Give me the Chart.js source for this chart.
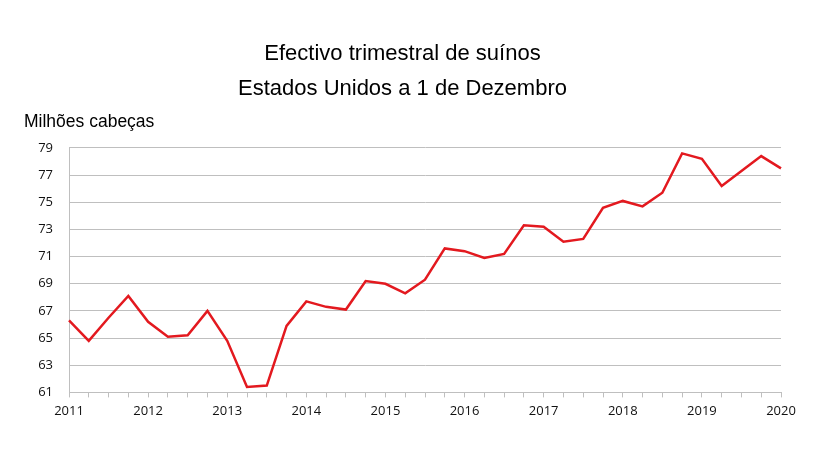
<!DOCTYPE html>
<html>
<head>
<meta charset="utf-8">
<script src="https://cdn.jsdelivr.net/npm/chart.js@4/dist/chart.umd.min.js"></script>
<style>
  html, body { margin: 0; padding: 0; background: #fff; }
  #wrap { width: 820px; height: 461px; }
</style>
</head>
<body>
<div id="wrap"><canvas id="hogChart"></canvas></div>
<script>
const titleLines = ["Efectivo trimestral de suínos", "Estados Unidos a 1 de Dezembro"];
const unitLabel = "Milhões cabeças";

const periods = [
  "2011 T1", "2011 T2", "2011 T3", "2011 T4",
  "2012 T1", "2012 T2", "2012 T3", "2012 T4",
  "2013 T1", "2013 T2", "2013 T3", "2013 T4",
  "2014 T1", "2014 T2", "2014 T3", "2014 T4",
  "2015 T1", "2015 T2", "2015 T3", "2015 T4",
  "2016 T1", "2016 T2", "2016 T3", "2016 T4",
  "2017 T1", "2017 T2", "2017 T3", "2017 T4",
  "2018 T1", "2018 T2", "2018 T3", "2018 T4",
  "2019 T1", "2019 T2", "2019 T3", "2019 T4",
  "2020 T1"
];

const hogs = [
  66.3, 64.8, 66.5, 68.1,
  66.2, 65.1, 65.2, 67.0,
  64.8, 61.4, 61.5, 65.9,
  67.7, 67.3, 67.1, 69.2,
  69.0, 68.3, 69.3, 71.6,
  71.4, 70.9, 71.2, 73.3,
  73.2, 72.1, 72.3, 74.6,
  75.1, 74.7, 75.7, 78.6,
  78.2, 76.2, 77.3, 78.4,
  77.5
];

const yMin = 61;
const yMax = 79;
const yStep = 2;

const gridColor = "#bfbfbf";
const tickFont = { family: "'Open Sans', sans-serif", size: 13 };

new Chart(document.querySelector("#hogChart").getContext("2d"), {
  type: "line",
  data: {
    labels: periods,
    datasets: [{
      label: "Efectivo",
      data: hogs,
      borderColor: "#e3191f",
      borderWidth: 2.5,
      pointRadius: 0,
      tension: 0,
      fill: false,
    }],
  },
  options: {
    responsive: true,
    maintainAspectRatio: false,
    animation: false,
    layout: {
      padding: { left: 24, right: 39, top: 0, bottom: 36 },
    },
    plugins: {
      legend: { display: false },
      tooltip: { enabled: false },
      title: {
        display: true,
        text: titleLines,
        color: "#000",
        font: { family: "'Liberation Sans', Arial, sans-serif", size: 22, weight: "normal", lineHeight: 1.59 },
        padding: { top: 36, bottom: 6 },
      },
      subtitle: {
        display: true,
        text: unitLabel,
        align: "start",
        color: "#000",
        font: { family: "'Liberation Sans', Arial, sans-serif", size: 17.5, weight: "normal", lineHeight: 1.2 },
        padding: { top: 0, bottom: 15 },
      },
    },
    scales: {
      x: {
        type: "category",
        offset: false,
        grid: {
          drawOnChartArea: false,
          drawTicks: true,
          tickLength: 5,
          color: gridColor,
        },
        border: { color: gridColor },
        ticks: {
          autoSkip: false,
          maxRotation: 0,
          padding: 6,
          color: "#111",
          font: tickFont,
          callback: function (value, index) {
            const p = periods[index];
            return p.endsWith("T1") ? p.slice(0, 4) : "";
          },
        },
      },
      y: {
        min: yMin,
        max: yMax,
        grid: {
          color: gridColor,
          drawTicks: false,
        },
        border: { color: gridColor },
        ticks: {
          stepSize: yStep,
          padding: 16,
          color: "#111",
          font: tickFont,
        },
        afterFit: function (scale) {
          scale.width = 45;
        },
      },
    },
  },
});
</script>
</body>
</html>
